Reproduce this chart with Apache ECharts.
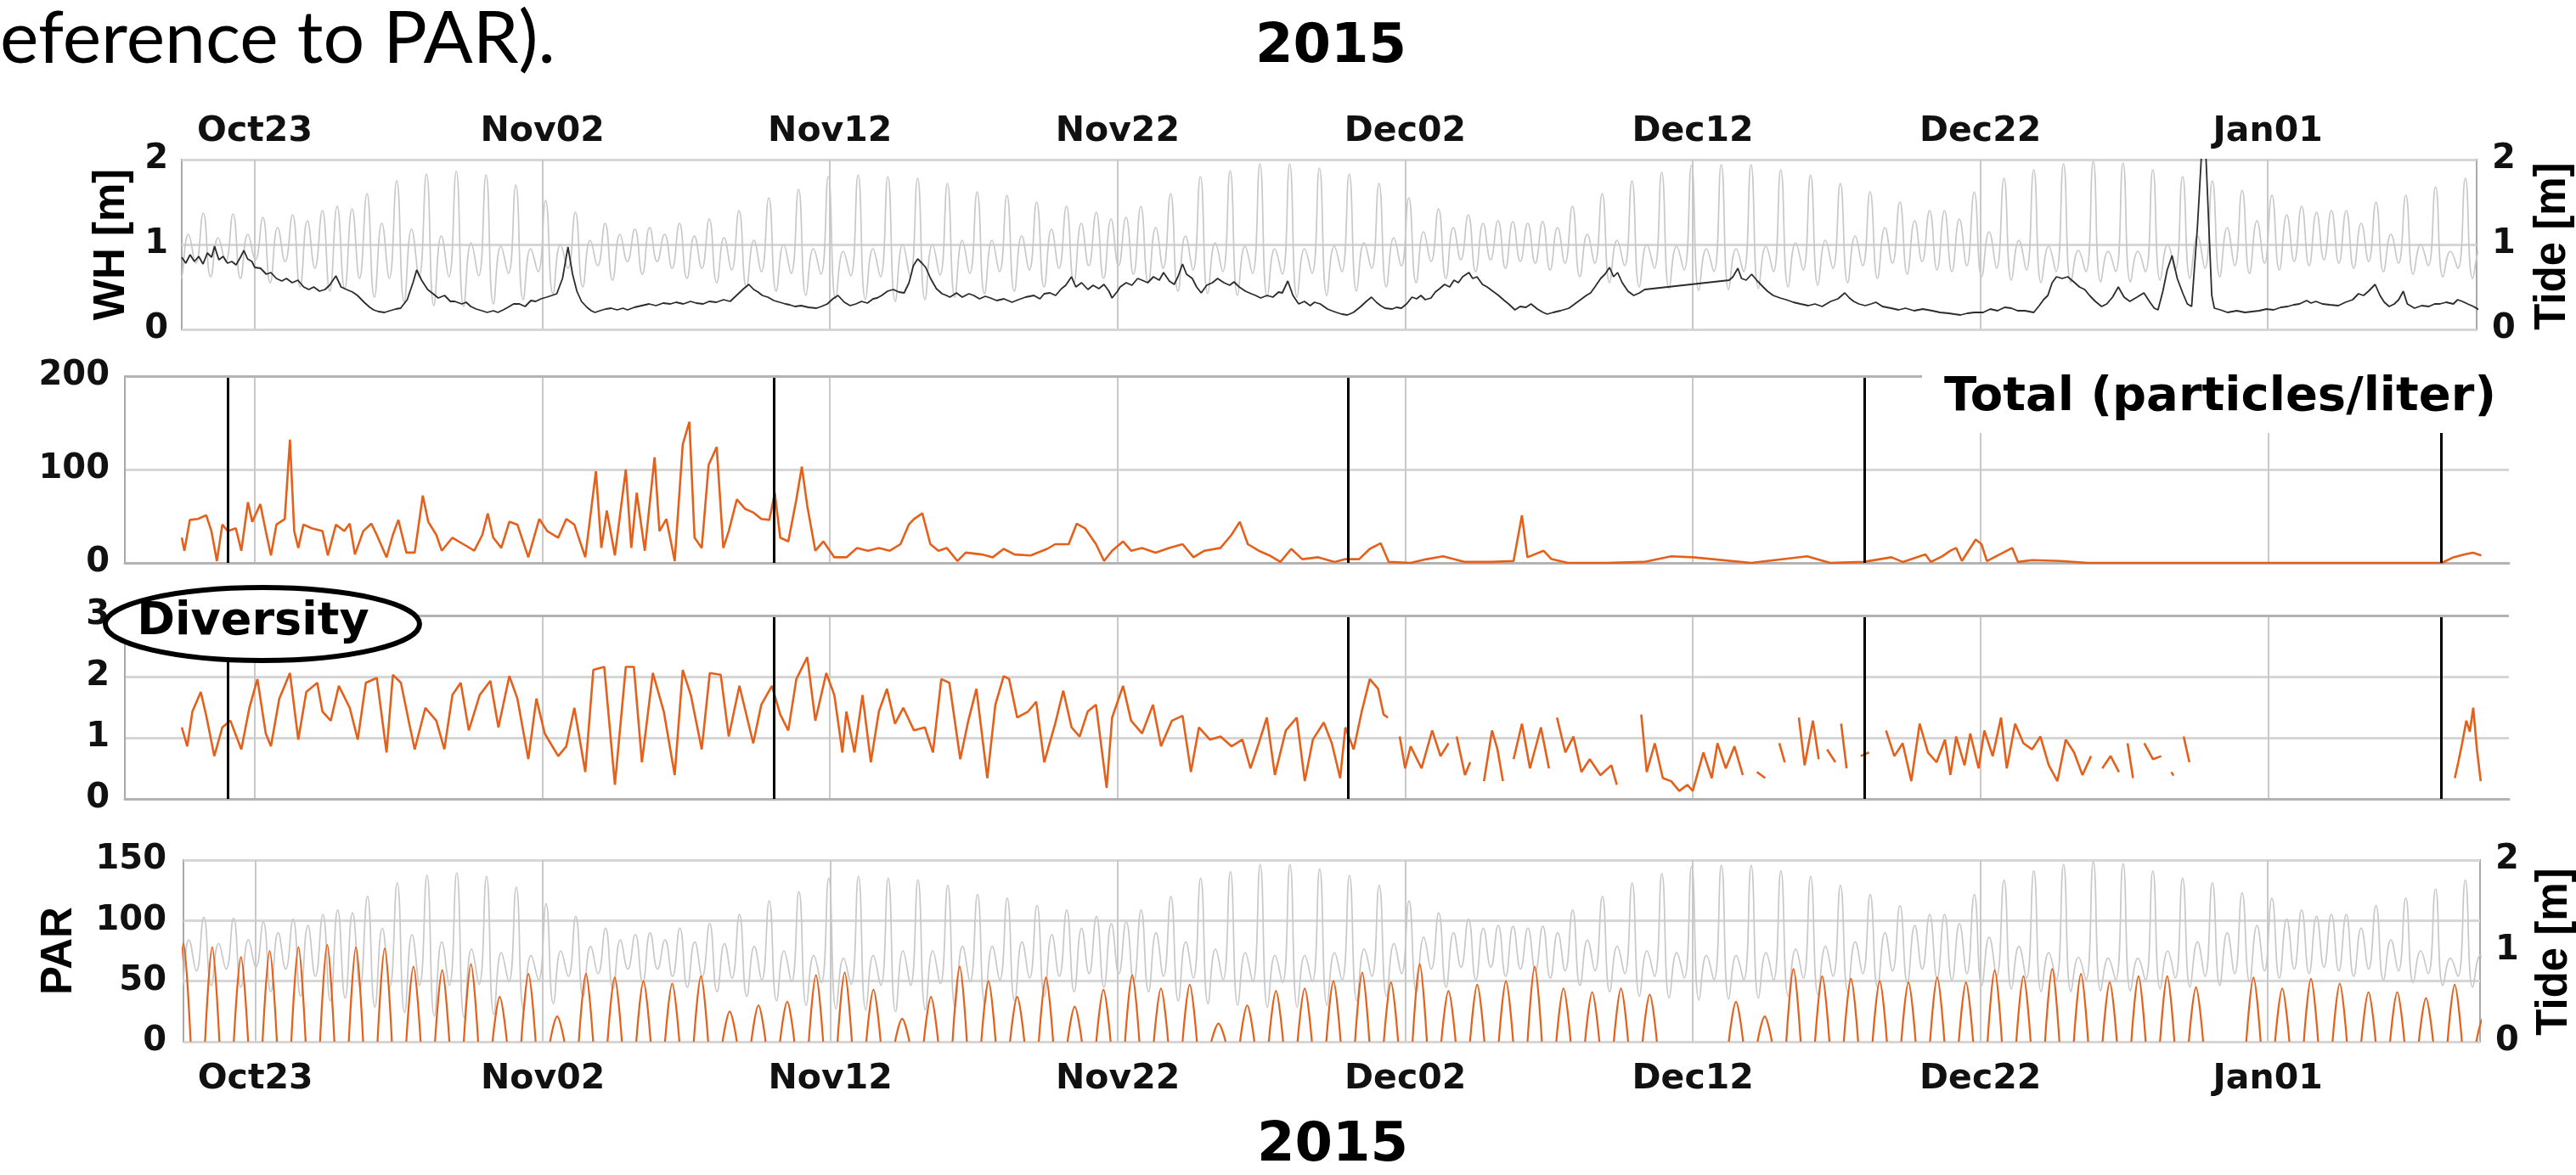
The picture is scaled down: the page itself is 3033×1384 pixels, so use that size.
<!DOCTYPE html>
<html><head><meta charset="utf-8">
<script src="https://cdn.jsdelivr.net/npm/echarts@6/dist/echarts.min.js"></script>
<style>html,body{margin:0;padding:0;background:#fff}#c{width:3033px;height:1384px}</style>
</head><body><div id="c"></div>
<script>
// ---------- DATA (x = day number: Oct d -> d, Nov d -> 31+d, Dec d -> 61+d, Jan d -> 92+d) ----------
const tickDays = [23, 33, 43, 53, 63, 73, 83, 93];
const tickLabels = ['Oct23', 'Nov02', 'Nov12', 'Nov22', 'Dec02', 'Dec12', 'Dec22', 'Jan01'];
const eventDays = [22.06, 41.05, 61.02, 78.98, 99.02];

// tide: successive high waters (one every M2 half-cycle) and the low water that follows each
const tideStart = 20.1725, tideStep = 0.5175;
const tideHigh = [
 1.35,1.12,1.37,1.08,1.36,1.12,1.32,1.2,1.35,1.28,
 1.4,1.45,1.42,1.6,1.25,1.75,1.18,1.83,1.1,1.86,
 1.02,1.82,0.98,1.7,0.95,1.52,1.0,1.38,1.05,1.25,
 1.12,1.18,1.2,1.12,1.25,1.1,1.3,1.08,1.4,1.05,
 1.55,1.0,1.65,0.95,1.8,0.92,1.82,0.95,1.8,1.0,
 1.78,1.0,1.72,1.05,1.62,1.05,1.58,1.1,1.5,1.18,
 1.45,1.25,1.38,1.3,1.32,1.45,1.2,1.6,1.1,1.8,
 1.02,1.87,0.98,1.95,0.95,1.95,0.95,1.9,0.98,1.83,
 1.02,1.72,1.08,1.55,1.15,1.42,1.2,1.35,1.25,1.28,
 1.27,1.25,1.27,1.2,1.45,1.12,1.6,1.05,1.75,1.0,
 1.85,0.98,1.93,0.95,1.94,0.95,1.94,0.98,1.88,1.02,
 1.82,1.05,1.72,1.1,1.62,1.2,1.5,1.28,1.4,1.4,
 1.3,1.62,1.15,1.78,1.05,1.88,0.98,1.95,0.93,1.98,
 0.92,1.96,0.92,1.88,1.0,1.8,1.1,1.75,1.2,1.64,
 1.28,1.58,1.35,1.45,1.38,1.4,1.4,1.25,1.5,1.12,
 1.58,1.0,1.68,0.92,1.78,0.95];
const tideLow = [
 0.6,0.78,0.62,0.8,0.6,0.82,0.55,0.8,0.5,0.72,
 0.45,0.48,0.6,0.38,0.6,0.32,0.62,0.28,0.62,0.27,
 0.63,0.3,0.66,0.35,0.68,0.42,0.72,0.5,0.75,0.58,
 0.8,0.65,0.8,0.72,0.6,0.72,0.55,0.7,0.5,0.68,
 0.45,0.66,0.4,0.65,0.36,0.63,0.35,0.62,0.33,0.62,
 0.35,0.64,0.38,0.66,0.42,0.68,0.45,0.7,0.5,0.72,
 0.55,0.75,0.6,0.75,0.65,0.55,0.72,0.45,0.7,0.42,
 0.68,0.4,0.66,0.38,0.65,0.38,0.66,0.4,0.68,0.45,
 0.72,0.5,0.75,0.55,0.8,0.6,0.82,0.68,0.82,0.72,
 0.8,0.78,0.7,0.78,0.62,0.78,0.55,0.75,0.5,0.72,
 0.48,0.7,0.46,0.68,0.47,0.68,0.48,0.68,0.5,0.7,
 0.52,0.72,0.55,0.75,0.6,0.78,0.65,0.8,0.7,0.68,
 0.75,0.62,0.72,0.58,0.7,0.55,0.68,0.55,0.68,0.56,
 0.68,0.56,0.68,0.58,0.7,0.6,0.72,0.62,0.75,0.66,
 0.78,0.7,0.8,0.75,0.82,0.78,0.72,0.8,0.68,0.78,
 0.65,0.75,0.62,0.72,0.6,0.7];

// wave height [day, m]
const whData = [
[20.46,0.85],[20.6,0.78],[20.75,0.88],[20.9,0.8],[21.05,0.86],[21.2,0.77],[21.35,0.9],[21.5,0.85],[21.6,0.98],[21.75,0.82],
[21.9,0.86],[22.05,0.78],[22.2,0.8],[22.35,0.76],[22.5,0.85],[22.62,0.93],[22.75,0.83],[22.9,0.8],[23.0,0.73],[23.2,0.72],
[23.4,0.65],[23.56,0.67],[23.75,0.6],[23.94,0.57],[24.1,0.6],[24.3,0.55],[24.5,0.58],[24.7,0.5],[24.88,0.47],[25.05,0.5],
[25.25,0.45],[25.44,0.47],[25.6,0.52],[25.82,0.63],[26.0,0.5],[26.19,0.47],[26.4,0.44],[26.57,0.4],[26.8,0.32],[27.0,0.26],
[27.13,0.23],[27.3,0.21],[27.51,0.2],[27.7,0.22],[27.9,0.24],[28.07,0.25],[28.3,0.35],[28.5,0.55],[28.63,0.7],[28.8,0.58],
[29.01,0.47],[29.2,0.42],[29.38,0.37],[29.6,0.4],[29.8,0.33],[29.95,0.33],[30.2,0.3],[30.35,0.32],[30.51,0.27],[30.7,0.24],
[30.9,0.22],[31.08,0.2],[31.3,0.22],[31.45,0.2],[31.64,0.23],[31.8,0.26],[32.0,0.3],[32.2,0.3],[32.4,0.27],[32.6,0.34],
[32.77,0.33],[32.95,0.36],[33.15,0.38],[33.33,0.4],[33.5,0.42],[33.7,0.6],[33.89,0.97],[34.05,0.65],[34.2,0.45],[34.36,0.33],
[34.55,0.26],[34.7,0.22],[34.83,0.2],[35.0,0.22],[35.2,0.24],[35.39,0.25],[35.6,0.23],[35.8,0.25],[35.96,0.23],[36.2,0.26],
[36.45,0.28],[36.71,0.3],[36.95,0.28],[37.2,0.31],[37.45,0.3],[37.65,0.32],[37.9,0.3],[38.15,0.33],[38.35,0.31],[38.59,0.3],
[38.8,0.33],[39.05,0.32],[39.3,0.35],[39.53,0.33],[39.75,0.4],[40.0,0.48],[40.18,0.53],[40.35,0.47],[40.5,0.44],[40.65,0.4],
[40.84,0.38],[41.05,0.34],[41.25,0.32],[41.45,0.3],[41.6,0.29],[41.78,0.27],[42.0,0.28],[42.25,0.26],[42.53,0.25],[42.7,0.27],
[42.91,0.3],[43.1,0.36],[43.28,0.4],[43.5,0.32],[43.7,0.28],[43.9,0.3],[44.1,0.33],[44.3,0.31],[44.5,0.36],[44.64,0.37],
[44.8,0.4],[45.0,0.45],[45.2,0.47],[45.4,0.44],[45.58,0.43],[45.75,0.55],[45.9,0.75],[46.05,0.83],[46.2,0.78],[46.33,0.73],
[46.5,0.6],[46.7,0.48],[46.9,0.42],[47.05,0.4],[47.17,0.38],[47.4,0.43],[47.6,0.38],[47.83,0.42],[48.0,0.4],[48.2,0.36],
[48.4,0.39],[48.58,0.37],[48.8,0.34],[49.05,0.36],[49.33,0.32],[49.55,0.35],[49.8,0.38],[50.09,0.4],[50.3,0.36],[50.45,0.42],
[50.65,0.43],[50.85,0.4],[51.05,0.48],[51.2,0.52],[51.4,0.62],[51.55,0.5],[51.75,0.55],[51.97,0.47],[52.15,0.52],[52.35,0.48],
[52.53,0.53],[52.7,0.45],[52.81,0.37],[53.0,0.45],[53.09,0.5],[53.3,0.55],[53.5,0.52],[53.7,0.6],[53.85,0.58],[54.05,0.55],
[54.25,0.62],[54.45,0.58],[54.6,0.67],[54.8,0.57],[54.97,0.53],[55.1,0.62],[55.26,0.77],[55.4,0.65],[55.6,0.6],[55.75,0.5],
[55.91,0.43],[56.1,0.52],[56.3,0.55],[56.48,0.6],[56.7,0.55],[56.9,0.52],[57.05,0.56],[57.23,0.5],[57.45,0.45],[57.65,0.42],
[57.8,0.4],[57.98,0.37],[58.2,0.4],[58.4,0.38],[58.6,0.44],[58.73,0.43],[58.92,0.57],[59.1,0.4],[59.3,0.3],[59.5,0.33],
[59.7,0.28],[59.85,0.32],[60.05,0.3],[60.3,0.24],[60.45,0.22],[60.61,0.2],[60.8,0.18],[60.99,0.17],[61.2,0.2],[61.35,0.24],
[61.46,0.27],[61.65,0.33],[61.83,0.38],[62.0,0.32],[62.15,0.28],[62.3,0.25],[62.55,0.24],[62.7,0.26],[62.87,0.25],[63.05,0.3],
[63.24,0.38],[63.4,0.36],[63.55,0.4],[63.7,0.35],[63.9,0.37],[64.05,0.44],[64.2,0.48],[64.37,0.53],[64.55,0.5],[64.7,0.58],
[64.85,0.55],[65.0,0.62],[65.22,0.67],[65.35,0.6],[65.5,0.62],[65.69,0.53],[65.85,0.5],[66.05,0.45],[66.25,0.4],[66.45,0.34],
[66.6,0.3],[66.82,0.23],[67.0,0.27],[67.2,0.26],[67.38,0.3],[67.6,0.24],[67.8,0.2],[67.94,0.18],[68.15,0.2],[68.4,0.22],
[68.7,0.25],[68.9,0.3],[69.1,0.35],[69.3,0.4],[69.45,0.43],[69.6,0.5],[69.8,0.6],[69.95,0.65],[70.11,0.73],[70.25,0.62],
[70.39,0.67],[70.55,0.55],[70.75,0.45],[70.95,0.4],[71.15,0.43],[71.33,0.47],[74.27,0.58],[74.4,0.62],[74.57,0.72],[74.7,0.6],
[74.86,0.58],[75.05,0.65],[75.25,0.57],[75.45,0.5],[75.6,0.45],[75.8,0.4],[76.04,0.37],[76.25,0.35],[76.5,0.32],[76.75,0.3],
[77.02,0.28],[77.25,0.3],[77.5,0.27],[77.8,0.33],[78.05,0.36],[78.29,0.43],[78.45,0.37],[78.6,0.33],[78.78,0.3],[79.0,0.28],
[79.2,0.3],[79.37,0.32],[79.6,0.27],[79.9,0.25],[80.16,0.23],[80.4,0.25],[80.7,0.22],[81.0,0.24],[81.33,0.22],[81.6,0.2],
[81.9,0.19],[82.1,0.18],[82.31,0.17],[82.55,0.19],[82.8,0.2],[83.1,0.2],[83.35,0.24],[83.6,0.22],[83.85,0.26],[84.08,0.25],
[84.3,0.22],[84.55,0.22],[84.86,0.2],[85.05,0.28],[85.2,0.35],[85.35,0.4],[85.5,0.55],[85.65,0.62],[85.85,0.6],[86.04,0.62],
[86.25,0.56],[86.45,0.5],[86.63,0.47],[86.8,0.4],[87.0,0.33],[87.22,0.27],[87.4,0.3],[87.6,0.38],[87.8,0.5],[88.0,0.38],
[88.2,0.33],[88.45,0.38],[88.69,0.43],[88.9,0.32],[89.05,0.25],[89.18,0.23],[89.35,0.45],[89.5,0.7],[89.67,0.87],[89.85,0.6],
[90.05,0.42],[90.2,0.3],[90.35,0.27],[90.55,1.2],[90.7,2.1],[90.84,2.1],[90.95,1.2],[91.05,0.4],[91.14,0.25],[91.35,0.23],
[91.6,0.2],[91.92,0.22],[92.2,0.2],[92.45,0.21],[92.7,0.22],[92.95,0.24],[93.2,0.23],[93.45,0.26],[93.69,0.27],[93.9,0.29],
[94.1,0.3],[94.35,0.34],[94.5,0.31],[94.67,0.33],[94.9,0.3],[95.15,0.29],[95.45,0.28],[95.7,0.32],[95.95,0.35],[96.15,0.42],
[96.33,0.4],[96.5,0.45],[96.73,0.53],[96.9,0.4],[97.05,0.32],[97.22,0.27],[97.4,0.3],[97.55,0.35],[97.71,0.45],[97.85,0.3],
[98.1,0.25],[98.35,0.28],[98.6,0.27],[98.8,0.3],[98.98,0.3],[99.2,0.32],[99.45,0.3],[99.6,0.35],[99.76,0.33],[99.95,0.3],
[100.15,0.27],[100.35,0.23]];

// Total particles/liter [day, value]
const totalData = [
[20.46,27],[20.55,13],[20.74,46],[21.02,47],[21.31,51],[21.49,34],[21.68,2],[21.87,41],[22.06,34],[22.34,37],
[22.53,13],[22.76,65],[22.91,44],[23.19,63],[23.38,34],[23.56,8],[23.75,41],[24.04,47],[24.22,132],[24.37,34],
[24.51,16],[24.69,41],[24.98,37],[25.35,34],[25.54,8],[25.82,41],[26.11,34],[26.3,42],[26.48,9],[26.77,34],
[27.05,42],[27.24,30],[27.58,6],[27.8,30],[27.99,46],[28.27,11],[28.56,11],[28.84,72],[29.03,44],[29.31,30],
[29.5,13],[29.87,27],[30.25,20],[30.63,13],[30.91,30],[31.1,53],[31.29,27],[31.57,16],[31.85,44],[32.13,41],
[32.51,6],[32.89,47],[33.17,34],[33.55,27],[33.83,47],[34.11,41],[34.49,6],[34.86,98],[35.05,16],[35.24,56],
[35.52,8],[35.9,100],[36.09,16],[36.28,75],[36.56,13],[36.9,113],[37.07,34],[37.31,47],[37.6,2],[37.88,127],
[38.11,151],[38.29,27],[38.54,16],[38.78,105],[39.06,124],[39.29,16],[39.48,34],[39.76,68],[40.04,58],[40.33,54],
[40.61,47],[40.89,46],[41.08,75],[41.27,27],[41.55,23],[41.83,68],[42.02,103],[42.21,61],[42.49,13],[42.77,23],
[43.15,6],[43.57,6],[43.94,16],[44.32,13],[44.7,16],[45.08,13],[45.45,20],[45.74,41],[45.92,47],[46.21,53],
[46.49,20],[46.77,13],[47.06,16],[47.43,2],[47.72,11],[48.28,9],[48.66,6],[49.04,15],[49.42,9],[49.98,8],
[50.55,15],[50.83,20],[51.3,20],[51.58,42],[51.87,37],[52.25,20],[52.53,2],[52.81,13],[53.19,23],[53.47,13],
[53.85,16],[54.32,11],[54.79,16],[55.26,20],[55.64,6],[56.02,13],[56.58,16],[56.96,30],[57.25,44],[57.53,20],
[57.91,13],[58.28,8],[58.66,1],[59.04,15],[59.42,4],[59.98,6],[60.55,1],[60.92,4],[61.4,4],[61.77,15],
[62.15,21],[62.43,1],[63.19,0],[63.75,4],[64.32,7],[65.08,1],[66.02,1],[66.77,2],[67.06,51],[67.25,6],
[67.81,13],[68.09,4],[68.66,0],[69.98,0],[71.3,1],[72.25,7],[73.0,6],[75.03,0],[76.98,7],[77.77,0],
[78.94,1],[79.91,6],[80.3,1],[81.09,9],[81.28,1],[81.67,7],[81.96,13],[82.16,16],[82.36,2],[82.84,25],
[83.04,20],[83.23,2],[84.11,16],[84.31,1],[84.8,3],[85.77,2],[86.75,0],[92.61,0],[98.47,0],[99.05,0],
[99.45,6],[99.84,9],[100.13,11],[100.42,8]];

// Diversity [day, value]; null = gap in the record
const diversityData = [
[20.46,1.17],[20.65,0.86],[20.83,1.43],[21.12,1.75],[21.31,1.36],[21.59,0.7],[21.87,1.17],[22.15,1.28],[22.53,0.81],[22.81,1.49],
[23.09,1.96],[23.38,1.07],[23.56,0.86],[23.85,1.64],[24.22,2.06],[24.51,0.97],[24.79,1.75],[25.17,1.9],[25.35,1.43],[25.64,1.28],
[25.92,1.85],[26.3,1.49],[26.58,0.97],[26.86,1.9],[27.24,1.98],[27.58,0.76],[27.8,2.03],[28.08,1.9],[28.37,1.23],[28.56,0.81],
[28.93,1.49],[29.31,1.28],[29.59,0.81],[29.87,1.7],[30.16,1.9],[30.44,1.12],[30.82,1.7],[31.19,1.93],[31.47,1.17],[31.85,2.01],
[32.13,1.64],[32.51,0.65],[32.79,1.64],[33.08,1.07],[33.55,0.7],[33.83,0.86],[34.11,1.49],[34.49,0.44],[34.77,2.11],[35.15,2.16],
[35.52,0.23],[35.9,2.16],[36.18,2.16],[36.46,0.6],[36.84,2.06],[37.22,1.43],[37.6,0.39],[37.88,2.11],[38.16,1.7],[38.54,0.81],
[38.82,2.06],[39.2,2.03],[39.48,1.02],[39.85,1.85],[40.33,0.91],[40.61,1.54],[40.98,1.85],[41.27,1.38],[41.55,1.12],[41.83,1.96],
[42.21,2.32],[42.49,1.28],[42.87,2.06],[43.15,1.7],[43.43,0.76],[43.57,1.43],[43.85,0.76],[44.13,1.7],[44.42,0.6],[44.7,1.43],
[44.98,1.8],[45.26,1.23],[45.55,1.49],[45.92,1.12],[46.3,1.17],[46.58,0.76],[46.87,1.96],[47.15,1.9],[47.53,0.65],[47.81,1.28],
[48.09,1.8],[48.47,0.34],[48.75,1.54],[49.04,2.01],[49.23,1.96],[49.51,1.33],[49.89,1.43],[50.17,1.59],[50.45,0.6],[50.83,1.23],
[51.11,1.77],[51.4,1.17],[51.68,1.02],[51.96,1.43],[52.25,1.54],[52.62,0.18],[52.81,1.33],[53.19,1.85],[53.47,1.28],[53.85,1.07],
[54.23,1.54],[54.51,0.86],[54.89,1.28],[55.26,1.36],[55.55,0.44],[55.83,1.17],[56.21,0.97],[56.58,1.02],[56.96,0.86],[57.34,0.97],
[57.62,0.5],[57.91,0.91],[58.19,1.33],[58.47,0.39],[58.85,1.12],[59.23,1.33],[59.51,0.29],[59.79,0.97],[60.17,1.25],[60.45,0.91],
[60.74,0.34],[60.92,1.17],[61.21,0.81],[61.49,1.43],[61.77,1.96],[62.06,1.8],[62.25,1.38],[62.4,1.33],[62.5,null],
[62.81,1.02],[63.0,0.5],[63.19,0.86],[63.57,0.5],[63.94,1.12],[64.23,0.7],[64.51,0.91],[64.6,null],
[64.79,1.02],[65.08,0.39],[65.26,0.6],[65.4,null],[65.74,0.29],[66.02,1.12],[66.21,0.81],[66.4,0.29],[66.5,null],
[66.77,0.65],[67.06,1.23],[67.34,0.5],[67.72,1.17],[68.0,0.5],[68.1,null],[68.28,1.33],[68.57,0.76],[68.85,1.02],[69.13,0.44],
[69.42,0.65],[69.79,0.39],[70.17,0.55],[70.36,0.23],[70.5,null],[71.21,1.38],[71.4,0.44],[71.68,0.91],[71.96,0.34],[72.25,0.29],
[72.53,0.13],[72.81,0.23],[73.0,0.13],[73.37,0.76],[73.66,0.34],[73.86,0.91],[74.15,0.5],[74.45,0.86],[74.74,0.39],[74.9,null],
[75.23,0.44],[75.52,0.34],[75.7,null],[76.01,0.91],[76.2,0.6],[76.4,null],[76.69,1.33],[76.89,0.55],[77.18,1.28],[77.38,0.65],
[77.5,null],[77.67,0.81],[77.96,0.6],[78.05,null],[78.16,1.23],[78.35,0.5],[78.5,null],[78.84,0.7],[79.13,0.76],[79.3,null],
[79.72,1.12],[80.01,0.7],[80.3,0.91],[80.6,0.29],[80.89,1.23],[81.18,0.76],[81.48,0.6],[81.77,0.97],[81.96,0.39],[82.16,1.02],
[82.45,0.55],[82.65,1.07],[82.94,0.5],[83.14,1.12],[83.43,0.7],[83.72,1.33],[83.92,0.5],[84.21,1.23],[84.5,0.91],[84.8,0.81],
[85.09,1.02],[85.38,0.55],[85.68,0.29],[85.97,0.97],[86.26,0.76],[86.55,0.39],[86.85,0.7],[87.0,null],[87.24,0.5],[87.53,0.7],
[87.82,0.44],[87.95,null],[88.12,0.91],[88.31,0.34],[88.5,null],[88.7,0.91],[89.0,0.65],[89.29,0.7],[89.45,null],[89.64,0.44],
[89.72,0.38],[89.85,null],[90.07,1.02],[90.27,0.6],[90.4,null],[99.5,0.34],[99.62,0.6],[99.75,0.9],[99.9,1.28],[100.02,1.1],
[100.14,1.49],[100.27,0.8],[100.4,0.29]];

// PAR: midday peak for each day starting at day parFirstDay (null = no record)
const parFirstDay = 20;
const parPeak = [
 81,78,70,75,78,80,78,77,62,59,
 64,37,56,21,56,53,50,48,54,25,
 30,33,55,57,43,19,37,62,50,37,
 53,29,43,55,44,47,15,30,42,44,
 50,57,49,64,42,47,50,62,44,41,
 44,39,null,null,33,21,60,54,52,50,
 49,53,49,59,54,60,56,49,54,54,
 45,null,53,44,52,48,41,41,36,47,
 20];

// ---------- build point lists ----------
const tidePts = [];
tideHigh.forEach((h, i) => {
  const t = tideStart + i * tideStep;
  tidePts.push([t, h]);
  tidePts.push([t + tideStep / 2, tideLow[i]]);
});
const parPts = [];
parPeak.forEach((p, i) => {
  if (p == null) return;
  const d = parFirstDay + i;
  parPts.push([d + 0.25, 0], [d + 0.5, p], [d + 0.75, 0], [d + 0.8, null]);
});

// ---------- chart ----------
const ORANGE = '#E4601B';
const TIDE = '#c8c8c8';
const FONT = 'DejaVu Sans';
const GRIDC = '#d6d6d6';
const FRAME = '#a9a9a9';
const numLabel = (margin) => ({fontFamily: FONT, fontWeight: 'bold', fontSize: 40, color: '#111', margin});
const labelFor = v => { const i = tickDays.indexOf(v); return i >= 0 ? tickLabels[i] : ''; };

function xAx(i, min, max, pos, showLabel, margin, line) {
  return {
    type: 'value', gridIndex: i, min, max, position: pos,
    axisLine: {show: !!line, onZero: false, lineStyle: {color: '#b3b3b3', width: 3}},
    axisTick: {show: false, customValues: tickDays},
    axisLabel: {show: showLabel, customValues: tickDays, formatter: labelFor,
      fontFamily: FONT, fontWeight: 'bold', fontSize: 41, color: '#111', margin: margin || 10},
    splitLine: {show: true, lineStyle: {color: '#c9c9c9', width: 2}}
  };
}
function yAx(i, min, max, interval, pos, split, margin, line) {
  return {
    type: 'value', gridIndex: i, min, max, interval, position: pos, offset: 0,
    axisLine: {show: !!line, onZero: false, lineStyle: {color: FRAME, width: 2}},
    axisTick: {show: false},
    axisLabel: numLabel(margin),
    splitLine: {show: split, lineStyle: {color: GRIDC, width: 3}}
  };
}

const eventLines = eventDays.map(d => ({xAxis: d, lineStyle: {color: '#000', width: 3, type: 'solid'}}));
function markLines(top) {
  return {
    silent: true, symbol: ['none', 'none'], label: {show: false}, animation: false,
    data: eventLines.concat([{yAxis: top, lineStyle: {color: '#b3b3b3', width: 3, type: 'solid'}}])
  };
}

const gridBase = {containLabel: false, outerBoundsMode: 'none'};
const option = {
  backgroundColor: '#ffffff',
  animation: false,
  grid: [
    Object.assign({left: 214, top: 188, width: 2702, height: 200, show: true, borderColor: FRAME, borderWidth: 2, backgroundColor: 'transparent'}, gridBase),
    Object.assign({left: 147, top: 443, width: 2807, height: 220}, gridBase),
    Object.assign({left: 147, top: 725, width: 2807, height: 216}, gridBase),
    Object.assign({left: 216, top: 1013, width: 2704, height: 214, show: true, borderColor: FRAME, borderWidth: 2, backgroundColor: 'transparent'}, gridBase)
  ],
  xAxis: [
    xAx(0, 20.46, 100.26, 'top', true, 12),
    xAx(1, 18.48, 101.38, 'bottom', false, 10, true),
    xAx(2, 18.48, 101.38, 'bottom', false, 10, true),
    xAx(3, 20.5, 100.38, 'bottom', true, 24)
  ],
  yAxis: [
    yAx(0, 0, 2, 1, 'left', true, 16),
    yAx(0, 0, 2, 1, 'right', false, 18),
    yAx(1, 0, 200, 100, 'left', true, 18, true),
    yAx(2, 0, 3, 1, 'left', true, 18, true),
    yAx(3, 0, 150, 50, 'left', true, 20),
    yAx(3, 0, 2, 1, 'right', false, 18)
  ],
  series: [
    {type: 'line', name: 'Tide', xAxisIndex: 0, yAxisIndex: 1, data: tidePts, smooth: 0.5, showSymbol: false,
      lineStyle: {color: TIDE, width: 1.7}, z: 2},
    {type: 'line', name: 'WH', xAxisIndex: 0, yAxisIndex: 0, data: whData, showSymbol: false,
      lineStyle: {color: '#2b2b2b', width: 1.8}, z: 3},
    {type: 'line', name: 'Total', xAxisIndex: 1, yAxisIndex: 2, data: totalData, showSymbol: false,
      lineStyle: {color: ORANGE, width: 2.6}, z: 3, markLine: markLines(200)},
    {type: 'line', name: 'Diversity', xAxisIndex: 2, yAxisIndex: 3, data: diversityData, showSymbol: false, connectNulls: false,
      lineStyle: {color: ORANGE, width: 2.6}, z: 3, markLine: markLines(3)},
    {type: 'line', name: 'Tide4', xAxisIndex: 3, yAxisIndex: 5, data: tidePts, smooth: 0.5, showSymbol: false,
      lineStyle: {color: TIDE, width: 1.7}, z: 2},
    {type: 'line', name: 'PAR', xAxisIndex: 3, yAxisIndex: 4, data: parPts, smooth: 0.35, showSymbol: false, connectNulls: false,
      lineStyle: {color: ORANGE, width: 2.2}, z: 3}
  ],
  graphic: [
    {type: 'text', x: 0, y: 46, z: 100, style: {text: 'eference to PAR).', font: '86px Lato', fill: '#000', align: 'left', verticalAlign: 'middle'}},
    {type: 'text', x: 1567, y: 56, z: 100, style: {text: '2015', font: 'bold 64px "DejaVu Sans"', fill: '#000', align: 'center', verticalAlign: 'middle'}},
    {type: 'text', x: 1569, y: 1350, z: 100, style: {text: '2015', font: 'bold 64px "DejaVu Sans"', fill: '#000', align: 'center', verticalAlign: 'middle'}},
    {type: 'text', x: 132, y: 288, rotation: Math.PI / 2, z: 100, style: {text: 'WH [m]', font: 'bold 51px "Liberation Sans"', fill: '#000', align: 'center', verticalAlign: 'middle'}},
    {type: 'text', x: 3006, y: 290, rotation: Math.PI / 2, z: 100, style: {text: 'Tide [m]', font: 'bold 51px "Liberation Sans"', fill: '#000', align: 'center', verticalAlign: 'middle'}},
    {type: 'text', x: 70, y: 1120, rotation: Math.PI / 2, z: 100, style: {text: 'PAR', font: 'bold 51px "Liberation Sans"', fill: '#000', align: 'center', verticalAlign: 'middle'}},
    {type: 'text', x: 3008, y: 1121, rotation: Math.PI / 2, z: 100, style: {text: 'Tide [m]', font: 'bold 51px "Liberation Sans"', fill: '#000', align: 'center', verticalAlign: 'middle'}},
    {type: 'rect', z: 99, shape: {x: 2263, y: 434, width: 740, height: 76}, style: {fill: '#fff'}},
    {type: 'text', x: 2939, y: 468, z: 100, style: {text: 'Total (particles/liter)', font: 'bold 56px "DejaVu Sans"', fill: '#000', align: 'right', verticalAlign: 'middle'}},
    {type: 'ellipse', z: 99, shape: {cx: 309, cy: 735, rx: 185, ry: 43}, style: {fill: '#fff', stroke: '#000', lineWidth: 6}},
    {type: 'text', x: 298, y: 733, z: 100, style: {text: 'Diversity', font: 'bold 54px "DejaVu Sans"', fill: '#000', align: 'center', verticalAlign: 'middle'}}
  ]
};

const chart = echarts.init(document.getElementById('c'), null, {renderer: 'canvas'});
chart.setOption(option);
</script>
</body></html>
